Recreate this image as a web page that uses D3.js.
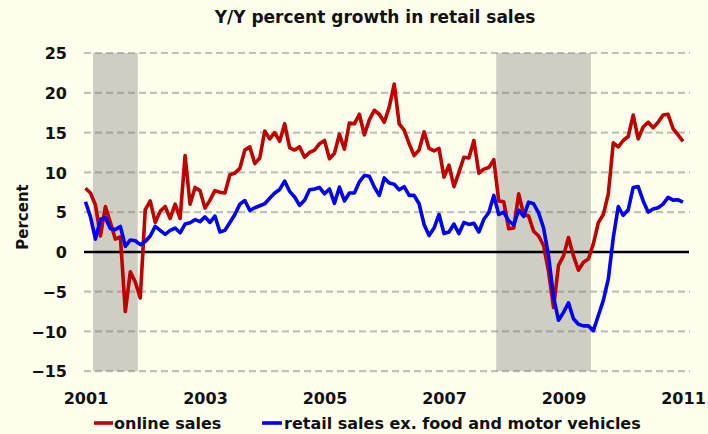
<!DOCTYPE html>
<html>
<head>
<meta charset="utf-8">
<script src="https://cdn.jsdelivr.net/npm/d3@7"></script>
<style>
  html, body { margin: 0; padding: 0; background: #FFFFEE; }
  svg { display: block; }
  text { font-family: "DejaVu Sans", Verdana, sans-serif; font-weight: bold; fill: #111; }
</style>
</head>
<body>
<svg id="chart" width="708" height="434"></svg>
<script>
// ---- data (monthly, Jan 2001 .. Jan 2011) ----
const startYear = 2001;
const onlineSales = [
  8.0, 7.4, 5.9, 2.0, 5.7, 3.7, 1.6, 1.9, -7.5, -2.5, -3.8, -5.8,
  5.3, 6.4, 3.7, 5.1, 5.7, 4.2, 6.0, 4.2, 12.1, 6.0, 8.1, 7.7,
  5.5, 6.5, 7.7, 7.5, 7.4, 9.7, 9.9, 10.5, 12.8, 13.2, 11.1, 11.8,
  15.2, 14.2, 15.0, 13.9, 16.1, 13.1, 12.8, 13.2, 11.9, 12.5, 12.8, 13.6,
  14.0, 11.7, 12.4, 14.8, 12.9, 16.2, 16.1, 17.3, 14.7, 16.6, 17.8, 17.3,
  16.3, 18.2, 21.1, 16.1, 15.3, 13.6, 12.1, 12.8, 15.1, 13.0, 12.7, 13.0,
  9.4, 10.9, 8.2, 10.0, 11.9, 11.8, 14.0, 9.9, 10.4, 10.6, 11.6, 6.4,
  6.3, 2.9, 3.0, 7.3, 4.7, 4.5, 2.6, 2.0, 0.8, -2.5, -7.0, -1.7,
  -0.5, 1.8, -0.5, -2.3, -1.3, -0.9, 1.0, 3.7, 4.7, 7.3, 13.7, 13.2,
  14.0, 14.5, 17.2, 14.2, 15.7, 16.3, 15.6, 16.3, 17.2, 17.3, 15.5, 14.7,
  13.9
];
const retailExFoodMotor = [
  6.3, 4.4, 1.6, 4.1, 4.3, 2.9, 2.8, 3.2, 0.7, 1.5, 1.4, 0.9,
  1.3, 2.0, 3.2, 2.7, 2.2, 2.7, 3.0, 2.4, 3.5, 3.65, 4.05, 3.8,
  4.4, 3.7, 4.5, 2.5, 2.7, 3.7, 4.7, 6.0, 6.45, 5.2, 5.55, 5.8,
  6.05, 6.75, 7.4, 7.85, 8.9, 7.6, 6.9, 5.85, 6.5, 7.8, 7.9, 8.1,
  7.3, 7.9, 6.1, 8.15, 6.4, 7.4, 7.4, 8.8, 9.6, 9.5, 8.15, 7.1,
  9.3, 8.65, 8.5, 7.8, 8.2, 7.1, 7.1, 6.05, 3.45, 2.05, 3.0, 4.7,
  2.3, 2.5, 3.5, 2.3, 3.7, 3.45, 3.6, 2.5, 4.1, 4.95, 7.1, 4.7,
  5.0, 3.9, 3.4, 5.25, 4.45, 6.25, 6.05, 4.9, 3.0, -0.5, -5.7, -8.6,
  -7.6, -6.4, -8.4, -9.1, -9.3, -9.3, -9.9, -8.0, -6.1, -3.4, 1.8, 5.7,
  4.6, 5.3, 8.1, 8.2, 6.4, 5.0, 5.4, 5.55, 6.0, 6.85, 6.5, 6.55,
  6.25
];
// recessions as [start month index, end month index] (months since Jan 2001)
const recessions = [[2, 10], [83, 101]];
const yTicks = [25, 20, 15, 10, 5, 0, -5, -10, -15];
const xTickYears = [2001, 2003, 2005, 2007, 2009, 2011];
const seriesNames = ["online sales", "retail sales ex. food and motor vehicles"];
const seriesColors = ["#C00000", "#0000FF"];
const title = "Y/Y percent growth in retail sales";
const yTitle = "Percent";

// ---- layout ----
const svg = d3.select("#chart");
const plotLeft = 84, plotRight = 690;
const x = d3.scaleLinear().domain([0, 120]).range([85.5, 683]);
const y = d3.scaleLinear().domain([-15, 25]).range([371.2, 53]);

svg.append("rect").attr("width", 708).attr("height", 434).attr("fill", "#FFFFEE");

// recession bands
svg.append("g").selectAll("rect").data(recessions).join("rect")
  .attr("x", d => x(d[0] - 0.5))
  .attr("width", d => x(d[1] + 0.5) - x(d[0] - 0.5))
  .attr("y", y(25))
  .attr("height", y(-15) - y(25))
  .attr("fill", "#CECEC2");

// grid lines
svg.append("g").selectAll("line").data(yTicks.filter(v => v !== 0)).join("line")
  .attr("x1", plotLeft).attr("x2", plotRight)
  .attr("y1", d => y(d)).attr("y2", d => y(d))
  .attr("stroke", "rgba(120,120,120,0.45)")
  .attr("stroke-width", 2.2)
  .attr("stroke-dasharray", "7,4");

// zero line
svg.append("line")
  .attr("x1", plotLeft).attr("x2", plotRight - 1)
  .attr("y1", y(0)).attr("y2", y(0))
  .attr("stroke", "#000").attr("stroke-width", 2.5);

// y axis labels
const yAxis = d3.axisLeft(y).tickValues(yTicks).tickSize(0).tickPadding(0);
const yg = svg.append("g").attr("transform", "translate(67,0)").call(yAxis);
yg.select(".domain").remove();
yg.selectAll("text").attr("font-size", 16).attr("font-family", "DejaVu Sans, Verdana, sans-serif")
  .attr("font-weight", "bold").attr("fill", "#111").attr("dy", "0.36em");

// x axis labels
const xAxis = d3.axisBottom(x)
  .tickValues(xTickYears.map(yr => (yr - startYear) * 12))
  .tickFormat(v => String(startYear + v / 12))
  .tickSize(0).tickPadding(0);
const xg = svg.append("g").attr("transform", "translate(0,392)").call(xAxis);
xg.select(".domain").remove();
xg.selectAll("text").attr("font-size", 16).attr("font-family", "DejaVu Sans, Verdana, sans-serif")
  .attr("font-weight", "bold").attr("fill", "#111").attr("dy", "0.75em");

// series lines
const line = d3.line().x((d, i) => x(i)).y(d => y(d));
[onlineSales, retailExFoodMotor].forEach((s, k) => {
  svg.append("path").datum(s)
    .attr("d", line)
    .attr("fill", "none")
    .attr("stroke", seriesColors[k])
    .attr("stroke-width", 3.6)
    .attr("stroke-linejoin", "round");
});

// title
svg.append("text").attr("x", 375).attr("y", 23).attr("text-anchor", "middle")
  .attr("font-size", 17).text(title);

// y title
svg.append("text").attr("transform", "translate(28,217) rotate(-90)")
  .attr("text-anchor", "middle").attr("font-size", 15).text(yTitle);

// legend
const legendItems = [
  { x1: 94, x2: 113, tx: 114 },
  { x1: 262, x2: 282, tx: 284 }
];
legendItems.forEach((it, k) => {
  svg.append("line").attr("x1", it.x1).attr("x2", it.x2)
    .attr("y1", 423).attr("y2", 423)
    .attr("stroke", seriesColors[k]).attr("stroke-width", 3.6);
  svg.append("text").attr("x", it.tx).attr("y", 429)
    .attr("font-size", 16).text(seriesNames[k]);
});
</script>
</body>
</html>
